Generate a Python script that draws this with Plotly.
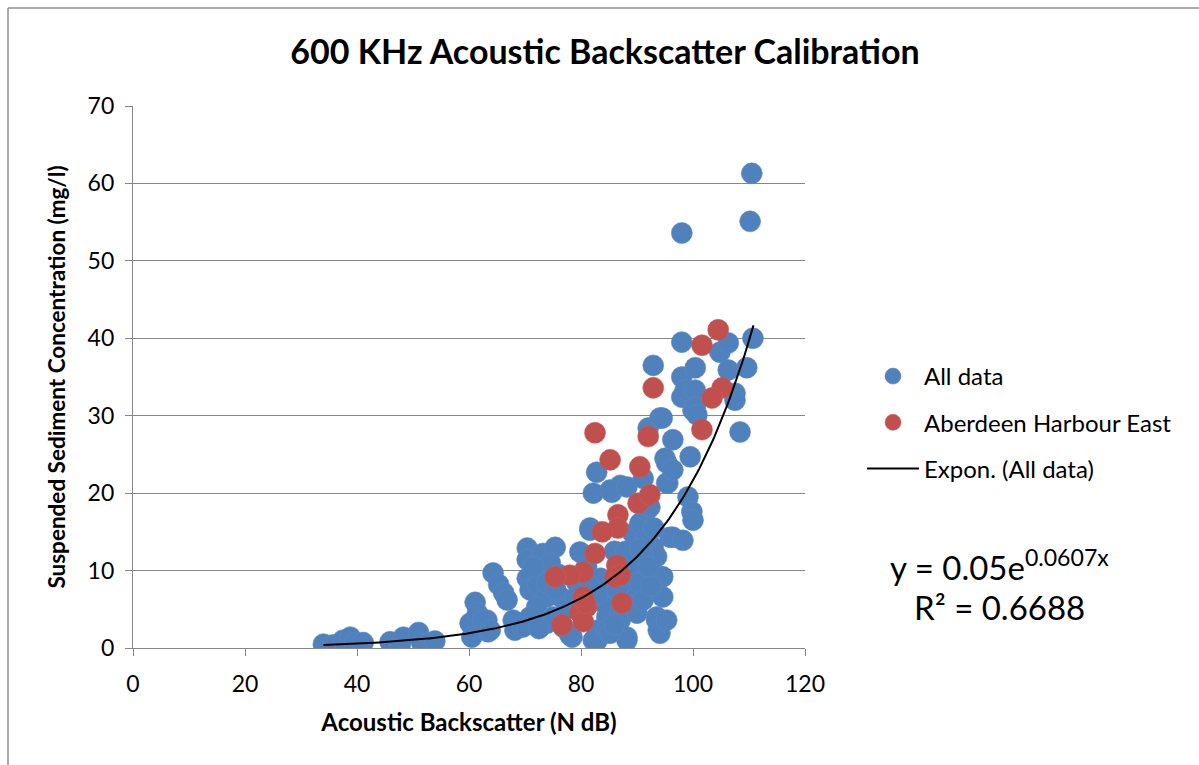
import numpy as np
import plotly.graph_objects as go

# ---- data ----
all_x = [34.0, 35.7, 37.5, 38.8, 39.5, 41.1, 45.9, 47.7, 48.3, 51.0, 51.6, 53.9,
         61.1, 60.2, 60.5, 61.5, 63.2, 63.4, 62.5, 63.8, 64.3, 65.3, 66.2, 66.8, 67.9, 68.2,
         70.4, 70.4, 70.4, 70.9, 70.9, 73.2, 75.4, 73.9, 72.3, 73.9, 72.1, 70.9, 69.6, 73.2,
         75.0, 76.8, 78.4, 73.9, 73.9, 76.3, 78.0, 79.3, 79.8, 74.5, 76.0, 77.5, 71.5, 75.5, 72.5,
         81.6, 81.6, 82.8, 82.2, 85.5, 87.0, 85.2, 88.2, 82.9, 82.9, 82.2, 84.6, 85.5, 84.6,
         84.6, 84.6, 87.0, 87.0, 88.2, 88.2, 85.2, 88.8, 88.8, 89.3, 81.0, 83.5, 86.0, 87.5,
         89.0, 83.0, 86.0, 88.0, 89.5, 86.5, 79.0, 81.5,
         90.5, 90.5, 90.5, 90.0, 91.1, 91.1, 91.8, 92.3, 92.0, 92.9, 92.9, 93.5, 93.5, 93.5,
         93.8, 94.1, 94.5, 94.1, 94.1, 94.6, 94.6, 95.0, 95.3, 95.3, 95.5, 95.3, 95.9, 96.4,
         96.4, 96.4, 98.0, 98.0, 98.0, 98.6, 98.2, 98.0, 99.1, 99.5, 99.8, 100.0, 100.0, 100.4,
         100.4, 100.4, 100.7, 91.5, 92.5, 93.0, 91.0, 90.5, 92.0,
         104.8, 106.3, 106.3, 107.5, 107.5, 108.4, 109.6, 110.7, 110.5, 110.2]
all_y = [0.5, 0.4, 1.0, 1.4, 0.6, 0.7, 0.8, 0.4, 1.4, 2.0, 0.6, 0.9,
         5.9, 3.2, 1.4, 4.5, 3.6, 2.1, 3.6, 2.3, 9.7, 8.2, 7.1, 6.2, 3.6, 2.3,
         12.9, 11.4, 9.0, 9.2, 7.5, 12.2, 13.0, 10.5, 8.1, 6.6, 5.3, 4.0, 2.7, 3.2,
         4.0, 2.7, 1.4, 8.4, 3.2, 6.6, 1.7, 8.4, 12.4, 11.0, 9.5, 5.0, 10.5, 7.5, 2.5,
         15.5, 15.2, 22.7, 20.0, 20.1, 21.0, 20.4, 20.8, 2.3, 1.0, 1.0, 4.0, 7.5, 6.6,
         5.3, 2.3, 4.9, 3.6, 1.4, 1.0, 1.9, 11.0, 7.9, 14.8, 10.5, 9.0, 12.5, 8.5,
         5.5, 7.0, 3.0, 12.5, 9.5, 7.5, 6.5, 8.0,
         16.1, 10.1, 8.4, 4.5, 21.9, 6.2, 17.8, 18.2, 28.4, 36.5, 13.0, 11.8, 4.0, 3.6,
         2.3, 29.7, 29.7, 9.2, 1.9, 9.2, 6.6, 24.5, 23.9, 21.3, 21.3, 3.6, 14.3, 26.9,
         23.0, 14.3, 39.5, 35.0, 32.4, 33.3, 13.9, 53.6, 19.5, 24.7, 17.6, 16.5, 30.7, 36.2,
         33.3, 31.1, 30.1, 14.0, 8.0, 15.5, 12.0, 12.8, 10.5,
         38.2, 39.4, 35.9, 32.9, 32.0, 27.9, 36.2, 40.0, 61.3, 55.1]

abe_x = [104.5, 101.6, 92.9, 105.2, 103.4, 101.6, 82.5, 92.0, 85.2, 90.5, 90.2, 92.3,
         86.6, 86.6, 83.8, 82.5, 86.4, 86.1, 87.0, 80.4, 78.0, 75.4, 80.4, 81.0, 79.8,
         80.4, 76.6, 87.3, 80.8]
abe_y = [41.1, 39.1, 33.6, 33.6, 32.3, 28.2, 27.8, 27.3, 24.3, 23.4, 18.7, 19.8,
         17.2, 15.5, 15.0, 12.2, 10.7, 9.2, 9.4, 9.8, 9.4, 9.2, 6.6, 5.3, 4.6,
         3.4, 3.0, 5.8, 5.8]

# exponential trendline as stated on the chart: y = a * exp(b x)
trend_a = 0.05
trend_b = 0.0607
trend_x_range = [34.0, 110.8]
r_squared = "0.6688"

x_ticks = [0, 20, 40, 60, 80, 100, 120]
y_ticks = [0, 10, 20, 30, 40, 50, 60, 70]

tx = np.linspace(trend_x_range[0], trend_x_range[1], 200)
ty = trend_a * np.exp(trend_b * tx)

FONT = "Lato"
BLUE = "#4F81BD"
RED = "#C0504D"
GRID = "#868686"

fig = go.Figure()
fig.add_trace(go.Scatter(
    x=all_x, y=all_y, mode="markers", name="All data", legendgroup="a",
    marker=dict(size=21, color=BLUE, line=dict(width=0.6, color="#5A8AC6"))))
fig.add_trace(go.Scatter(
    x=abe_x, y=abe_y, mode="markers", name="Aberdeen Harbour East", legendgroup="b",
    marker=dict(size=21, color=RED, line=dict(width=0.6, color="#C85C59"))))
fig.add_trace(go.Scatter(
    x=tx, y=ty, mode="lines", name="Expon. (All data)", legendgroup="c",
    line=dict(color="black", width=2)))

W, H = 1199, 765
L, R, T, B = 133, 805, 106, 648
pw, ph = R - L, B - T

def px_x(p):
    return (p - L) / pw

def px_y(p):
    return (B - p) / ph

fig.update_layout(
    width=W, height=H,
    margin=dict(l=L, r=W - R, t=T, b=H - B, pad=0),
    paper_bgcolor="white", plot_bgcolor="white",
    font=dict(family=FONT, size=22, color="black"),
    title=dict(text="<b>600 KHz Acoustic Backscatter Calibration</b>",
               x=px_x(605), xanchor="center", xref="paper",
               y=1 - 52 / H, yanchor="middle", yref="container",
               font=dict(family=FONT, size=34, color="black")),
    xaxis=dict(range=[0, 120], tickvals=x_ticks, showgrid=False, zeroline=False,
               showline=True, linecolor=GRID, linewidth=1.3,
               ticks="outside", ticklen=7, tickcolor=GRID, tickwidth=1.3,
               ticklabelstandoff=8,
               tickfont=dict(family=FONT, size=23),
               title=dict(text="<b>Acoustic Backscatter (N dB)</b>", standoff=18,
                          font=dict(family=FONT, size=24))),
    yaxis=dict(range=[0, 70], tickvals=y_ticks, showgrid=True, gridcolor=GRID,
               gridwidth=1.3, zeroline=False, showline=True, linecolor=GRID,
               linewidth=1.3, ticks="outside", ticklen=7, tickcolor=GRID, tickwidth=1.3,
               ticklabelstandoff=6,
               tickfont=dict(family=FONT, size=23),
               title=dict(text="<b>Suspended Sediment Concentration (mg/l)</b>", standoff=15,
                          font=dict(family=FONT, size=22.5))),
    legend=dict(x=px_x(862), y=px_y(354), xanchor="left", yanchor="top",
                font=dict(family=FONT, size=24), tracegroupgap=12,
                itemwidth=52, bgcolor="rgba(0,0,0,0)"),
    showlegend=True,
)

fig.add_annotation(xref="paper", yref="paper", x=px_x(999), y=px_y(565),
                   text=f"y = {trend_a:g}e<sup>{trend_b:g}x</sup>",
                   showarrow=False, font=dict(family=FONT, size=33), xanchor="center", yanchor="middle")
fig.add_annotation(xref="paper", yref="paper", x=px_x(999), y=px_y(607),
                   text=f"R² = {r_squared}", showarrow=False,
                   font=dict(family=FONT, size=33), xanchor="center", yanchor="middle")

# outer chart frame (cropped at right and bottom)
fig.add_shape(type="line", xref="paper", yref="paper",
              x0=px_x(8), x1=px_x(8), y0=px_y(8), y1=px_y(H + 10),
              line=dict(color="#8C8C8C", width=1.5))
fig.add_shape(type="line", xref="paper", yref="paper",
              x0=px_x(8), x1=px_x(W + 10), y0=px_y(8), y1=px_y(8),
              line=dict(color="#8C8C8C", width=1.5))

fig.write_html("out.html")
